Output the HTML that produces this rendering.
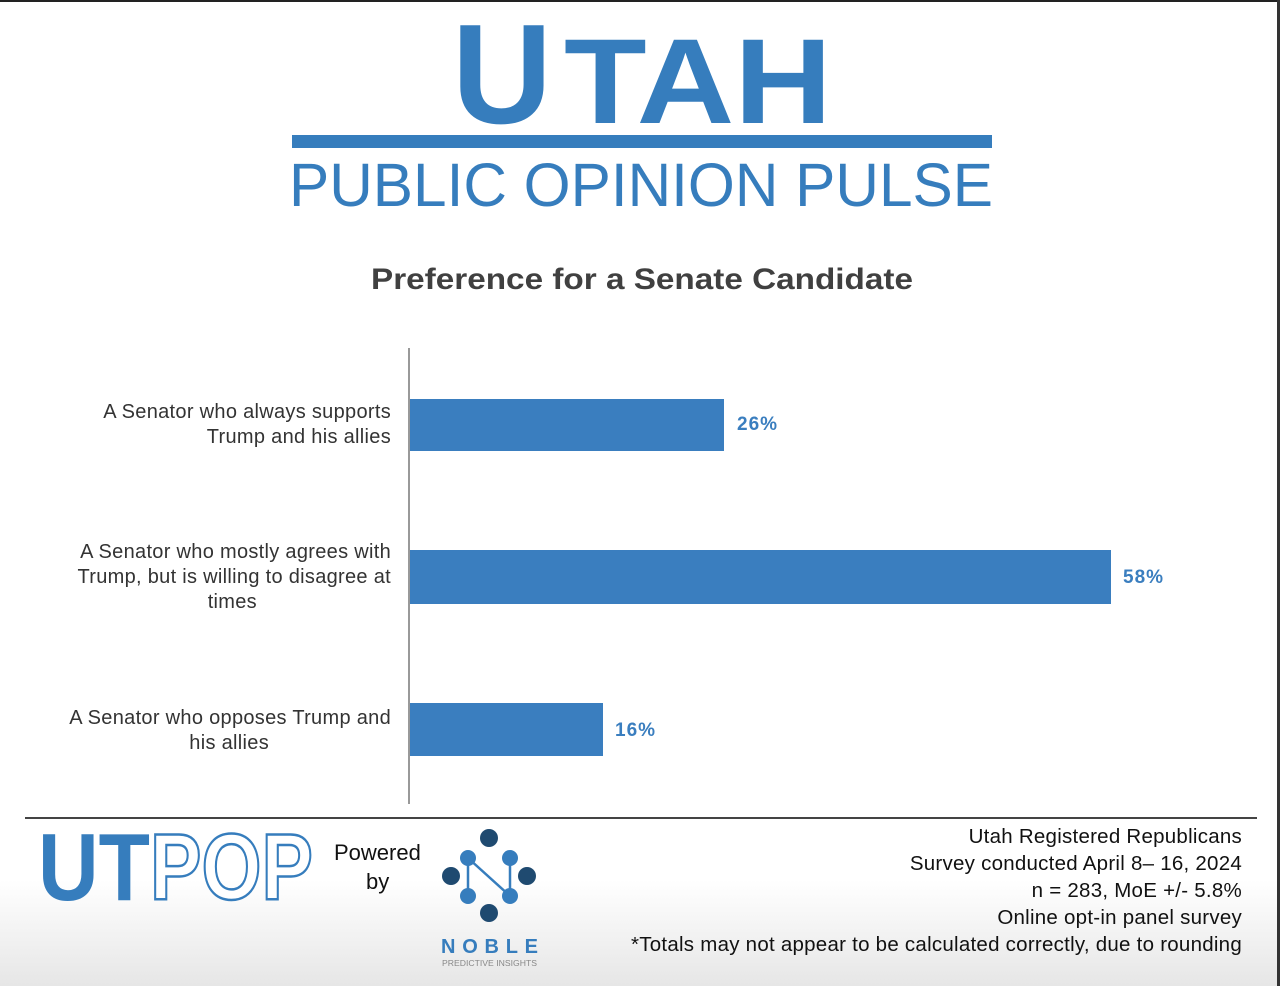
<!DOCTYPE html>
<html><head><meta charset="utf-8"><style>
html,body{margin:0;padding:0}
body{width:1280px;height:986px;position:relative;overflow:hidden;background:linear-gradient(#fff 0,#fff 880px,#e6e6e6 986px);font-family:"Liberation Sans",sans-serif}
.a{position:absolute}
.lab{position:absolute;right:889px;text-align:right;font-size:20px;line-height:25px;color:#333;letter-spacing:0.3px}
.bar{position:absolute;left:410px;background:#3a7ebf}
.val{position:absolute;font-weight:bold;color:#3a7ebf;font-size:19px;letter-spacing:1px}
.ft{position:absolute;right:38px;text-align:right;font-size:20.5px;color:#111;line-height:27px;top:823px;letter-spacing:0.25px}
</style></head><body>
<div class="a" style="left:0;top:0;width:1280px;height:2px;background:#222"></div>
<div class="a" style="left:1277px;top:0;width:3px;height:986px;background:#333"></div>
<svg class="a" style="left:0;top:0" width="1280" height="310">
<text x="452" y="123" font-family="Liberation Sans" font-weight="bold" font-size="142" fill="#367dbd" textLength="100" lengthAdjust="spacingAndGlyphs">U</text>
<text x="564" y="123" font-family="Liberation Sans" font-weight="bold" font-size="121" fill="#367dbd" textLength="268" lengthAdjust="spacingAndGlyphs">TAH</text>
<rect x="292" y="135" width="700" height="13" fill="#367dbd"/>
<text x="289" y="206" font-family="Liberation Sans" font-size="61" fill="#367dbd" textLength="704" lengthAdjust="spacingAndGlyphs">PUBLIC OPINION PULSE</text>
<text x="371" y="289" font-family="Liberation Sans" font-weight="bold" font-size="30" fill="#404040" textLength="542" lengthAdjust="spacingAndGlyphs">Preference for a Senate Candidate</text>
</svg>
<div class="a" style="left:408px;top:348px;width:2px;height:456px;background:#999"></div>
<div class="lab" style="top:400px">A Senator who always supports<br>Trump and his allies</div>
<div class="lab" style="top:540px">A Senator who mostly agrees with<br>Trump, but is willing to disagree at<br><span style="margin-right:134px">times</span></div>
<div class="lab" style="top:706px">A Senator who opposes Trump and<br><span style="margin-right:122px">his allies</span></div>
<div class="bar" style="top:399px;width:314px;height:52px"></div>
<div class="bar" style="top:550px;width:701px;height:54px"></div>
<div class="bar" style="top:703px;width:193px;height:53px"></div>
<div class="val" style="left:737px;top:414px">26%</div>
<div class="val" style="left:1123px;top:567px">58%</div>
<div class="val" style="left:615px;top:720px">16%</div>
<div class="a" style="left:25px;top:817px;width:1232px;height:2px;background:#444"></div>
<svg class="a" style="left:0;top:820px" width="560" height="166">
<text x="38" y="80" font-family="Liberation Sans" font-weight="bold" font-size="96" fill="#367dbd" textLength="112" lengthAdjust="spacingAndGlyphs">UT</text>
<text x="150" y="79" font-family="Liberation Sans" font-weight="bold" font-size="94" fill="#fff" stroke="#367dbd" stroke-width="2.5" textLength="163" lengthAdjust="spacingAndGlyphs">POP</text>
<text x="334" y="40" font-family="Liberation Sans" font-size="22" fill="#111">Powered</text>
<text x="366" y="69" font-family="Liberation Sans" font-size="22" fill="#111">by</text>
<g stroke="#367dbd" stroke-width="2.5" fill="none"><path d="M468 38 L468 76 M468 38 L510 76 M510 38 L510 76"/></g>
<circle cx="489" cy="18" r="9" fill="#1f4a70"/><circle cx="489" cy="93" r="9" fill="#1f4a70"/>
<circle cx="451" cy="56" r="9" fill="#1f4a70"/><circle cx="527" cy="56" r="9" fill="#1f4a70"/>
<circle cx="468" cy="38" r="8" fill="#367dbd"/><circle cx="510" cy="38" r="8" fill="#367dbd"/>
<circle cx="468" cy="76" r="8" fill="#367dbd"/><circle cx="510" cy="76" r="8" fill="#367dbd"/>
<text x="441" y="133" font-family="Liberation Sans" font-weight="bold" font-size="20" fill="#367dbd" textLength="97" lengthAdjust="spacing">NOBLE</text>
<text x="442" y="146" font-family="Liberation Sans" font-size="8" fill="#888" textLength="95" lengthAdjust="spacingAndGlyphs">PREDICTIVE INSIGHTS</text>
</svg>
<div class="ft">Utah Registered Republicans<br>Survey conducted April 8– 16, 2024<br>n = 283, MoE +/- 5.8%<br>Online opt-in panel survey<br>*Totals may not appear to be calculated correctly, due to rounding</div>
</body></html>
